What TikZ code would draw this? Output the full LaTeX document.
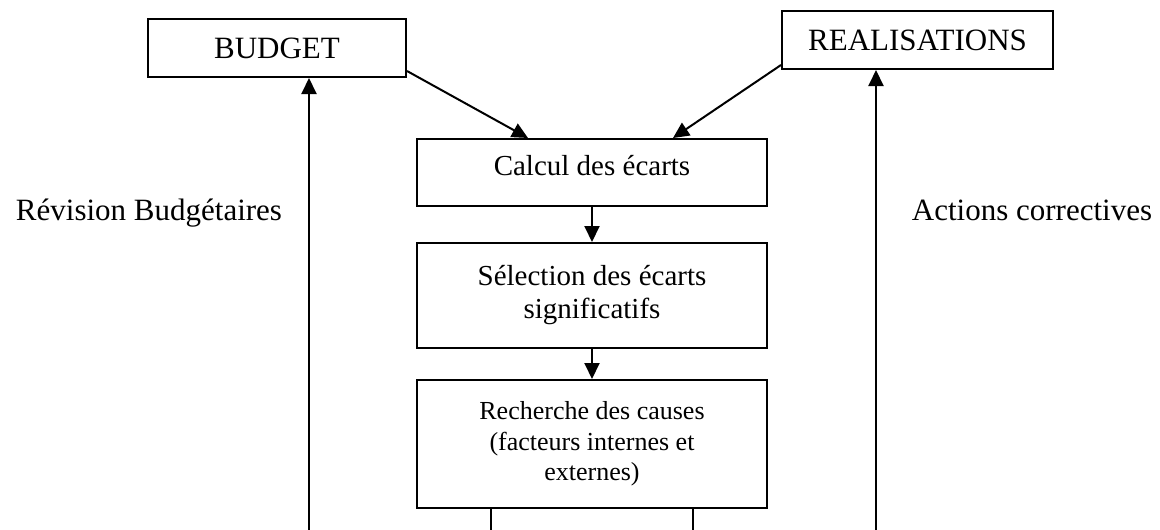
\documentclass[tikz,border=0pt]{standalone}
\usepackage{fontspec}
\setmainfont{Liberation Serif}
\usetikzlibrary{arrows.meta}
\begin{document}
\begin{tikzpicture}[x=1pt,y=-1pt,
  box/.style={draw,line width=2pt,inner sep=0pt,align=center},
  arr/.style={line width=2pt,-{Triangle[length=16pt,width=15pt]}},
  ln/.style={line width=2pt},
  big/.style={font=\fontsize{31}{36}\selectfont},
  mid/.style={font=\fontsize{29}{33}\selectfont},
  small/.style={font=\fontsize{26}{30.5}\selectfont}]
\useasboundingbox (0,0) rectangle (1160,530);
\node[box,big,minimum width=258pt,minimum height=58pt] (b) at (277,48) {BUDGET};
\node[box,big,minimum width=271pt,minimum height=58pt] (r) at (917.5,40) {REALISATIONS};
\node[box,mid,text depth=14pt,minimum width=350pt,minimum height=67pt] (c) at (592,172.5) {Calcul des écarts};
\node[box,mid,minimum width=350pt,minimum height=105pt] (s) at (592,295.5) {Sélection des écarts\\significatifs};
\node[box,small,minimum width=350pt,minimum height=128pt] (rc) at (592,444) {Recherche des causes\\(facteurs internes et\\externes)};
\node[big,anchor=base] (rev) at (149,220) {Révision Budgétaires};
\node[big,anchor=base] (act) at (1032,220) {Actions correctives};
\draw[arr] ([yshift=7pt]b.south east) -- ([xshift=-64pt]c.north);
\draw[arr] ([yshift=5pt]r.south west) -- ([xshift=81pt]c.north);
\draw[arr] (c) -- (s);
\draw[arr] (s) -- (rc);
\coordinate (bl) at (309,530);
\coordinate (rl) at (876,530);
\draw[arr] (bl) -- (bl |- b.south);
\draw[arr] (rl) -- (rl |- r.south);
\coordinate (o1) at (491,530);
\coordinate (o2) at (693,530);
\draw[ln] (o1 |- rc.south) -- (o1);
\draw[ln] (o2 |- rc.south) -- (o2);
\end{tikzpicture}
\end{document}
